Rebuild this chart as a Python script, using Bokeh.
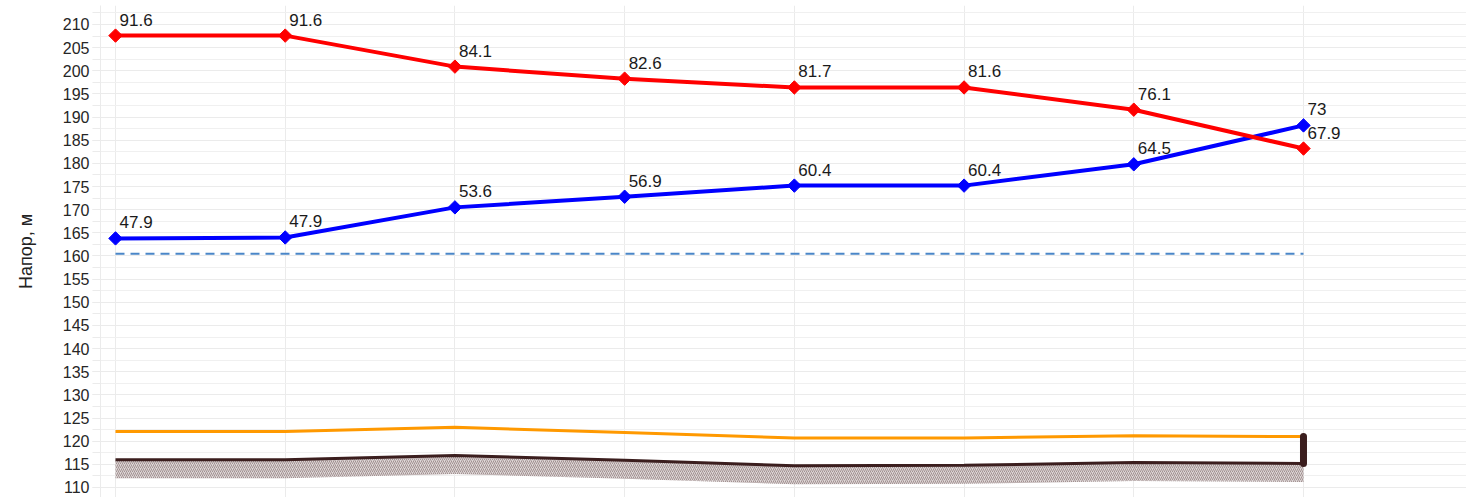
import numpy as np
from bokeh.plotting import figure
from bokeh.models import SingleIntervalTicker, FixedTicker, Range1d
from bokeh.core.properties import value
from bokeh.embed import file_html
from bokeh.resources import INLINE

# ---- data ----
points = [1, 2, 3, 4, 5, 6, 7, 8]
red_head = [207.6, 207.6, 200.9, 198.3, 196.4, 196.4, 191.6, 183.2]
red_labels = ["91.6", "91.6", "84.1", "82.6", "81.7", "81.6", "76.1", "67.9"]
blue_head = [163.8, 164.0, 170.5, 172.8, 175.2, 175.2, 179.8, 188.2]
blue_labels = ["47.9", "47.9", "53.6", "56.9", "60.4", "60.4", "64.5", "73"]
orange_level = [122.1, 122.1, 123.0, 121.9, 120.7, 120.7, 121.2, 121.0]
ground = [116.0, 116.0, 116.9, 115.9, 114.7, 114.8, 115.4, 115.2]
soil_depth = 4.0
dashed_level = 160.5

FONT = value("Liberation Sans")

p = figure(width=1466, height=497, output_backend="svg", toolbar_location=None,
           x_range=Range1d(0.9116, 8.9605), y_range=Range1d(107.84, 214.1),
           x_axis_location=None, min_border_left=100, min_border_right=0,
           min_border_top=5, min_border_bottom=0)
p.outline_line_color = None
p.background_fill_color = "white"
p.border_fill_color = "white"

# grids
p.xgrid.ticker = FixedTicker(ticks=points)
p.xgrid.grid_line_color = "#ebebeb"
p.yaxis.ticker = SingleIntervalTicker(interval=5, num_minor_ticks=2)
p.ygrid.grid_line_color = "#ebebeb"
p.ygrid.minor_grid_line_color = "#f0f0f0"

# y axis
ax = p.yaxis[0]
ax.axis_label = "Напор, м"
ax.axis_label_text_font = "Liberation Sans"
ax.axis_label_text_font_size = "18px"
ax.axis_label_text_font_style = "normal"
ax.axis_label_text_color = "#222222"
ax.axis_label_standoff = 24
ax.major_label_text_font = "Liberation Sans"
ax.major_label_text_font_size = "16px"
ax.major_label_text_color = "#262626"
ax.major_label_standoff = 3
ax.axis_line_color = "#ebebeb"
ax.major_tick_line_color = "#ebebeb"
ax.minor_tick_line_color = "#ebebeb"
ax.major_tick_out = 8
ax.major_tick_in = 0
ax.minor_tick_out = 8
ax.minor_tick_in = 0

# soil band (hatched)
soil_base = [g - soil_depth for g in ground]
p.varea(x=points, y1=soil_base, y2=ground, fill_color="#ddd6d6", fill_alpha=1.0,
        hatch_pattern="/", hatch_color="#7a6262", hatch_alpha=0.6,
        hatch_scale=4, hatch_weight=1)
p.line(points, ground, line_color="#3b1e1e", line_width=3)

# orange level
p.line(points, orange_level, line_color="#ff9900", line_width=3)

# pipe at last point
p.segment(x0=[points[-1]], y0=[ground[-1]], x1=[points[-1]], y1=[orange_level[-1]],
          line_color="#3b1e1e", line_width=7, line_cap="round")

# dashed reference
p.line(points, [dashed_level] * len(points), line_color="#4a86c8",
       line_width=2, line_dash="9 6")

# blue series
p.line(points, blue_head, line_color="#0000ff", line_width=4)
p.scatter(points, blue_head, marker="square", angle=np.pi / 4, size=9.5,
          fill_color="#0000ff", line_color="#0000ff")

# red series
p.line(points, red_head, line_color="#ff0000", line_width=4)
p.scatter(points, red_head, marker="square", angle=np.pi / 4, size=9.5,
          fill_color="#ff0000", line_color="#ff0000")

# labels
p.text(points, blue_head, text=blue_labels, x_offset=4, y_offset=-16,
       text_baseline="alphabetic", text_align="left", text_font=FONT,
       text_font_size="17px", text_color="#1a1a1a")
p.text(points, red_head, text=red_labels, x_offset=4, y_offset=-16,
       text_baseline="alphabetic", text_align="left", text_font=FONT,
       text_font_size="17px", text_color="#1a1a1a")

open("out.html", "w").write(file_html(p, INLINE))
